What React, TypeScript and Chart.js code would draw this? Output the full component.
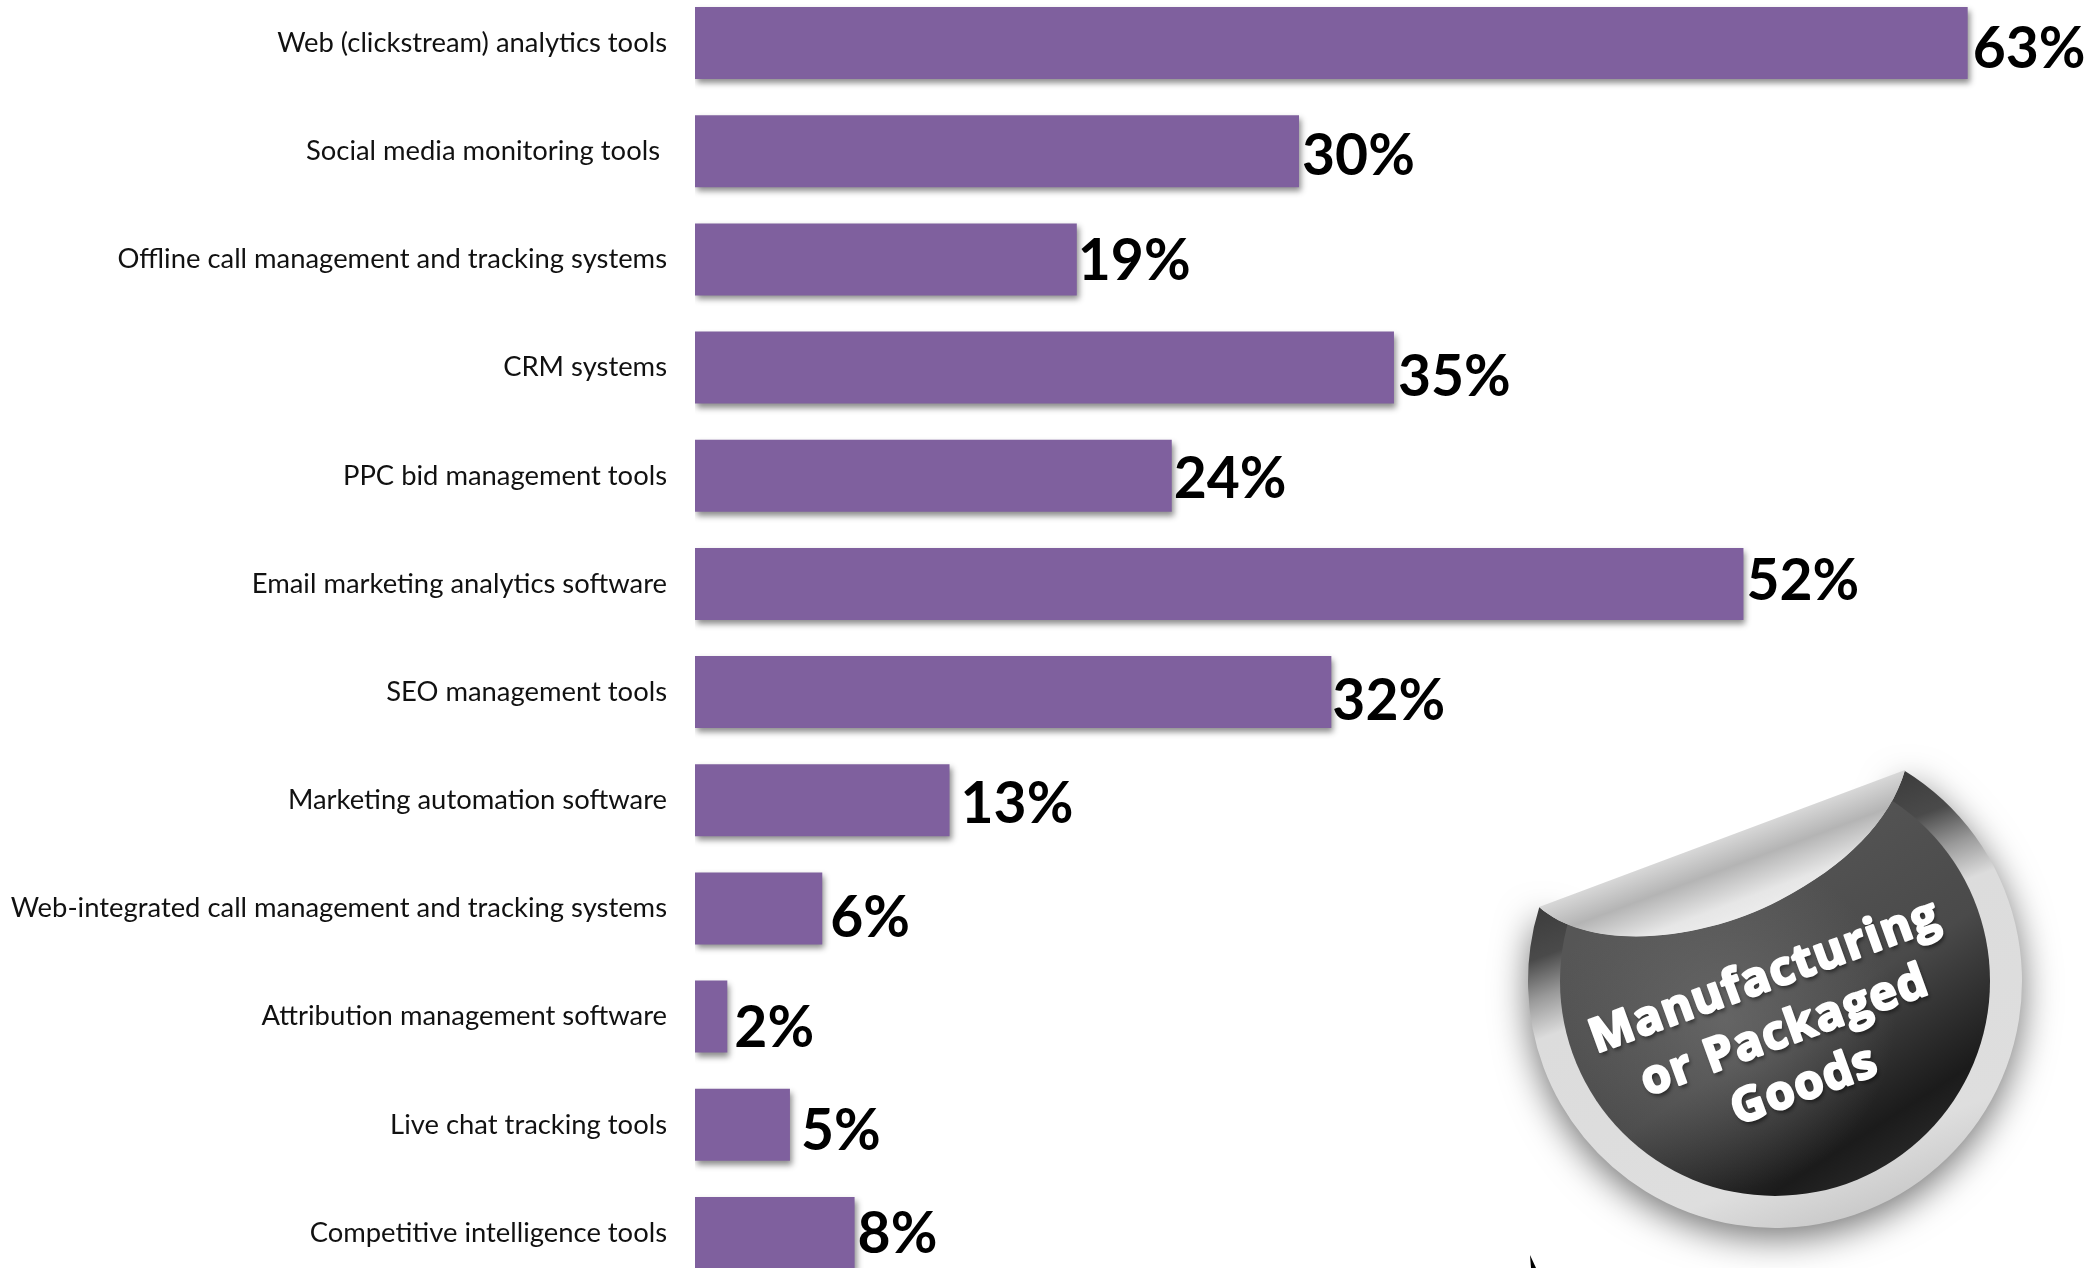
import React, { useEffect, useRef } from "react";
import { Chart, registerables } from "chart.js";

Chart.register(...registerables);

const categories = [
  "Web (clickstream) analytics tools",
  "Social media monitoring tools ",
  "Offline call management and tracking systems",
  "CRM systems",
  "PPC bid management tools",
  "Email marketing analytics software",
  "SEO management tools",
  "Marketing automation software",
  "Web-integrated call management and tracking systems",
  "Attribution management software",
  "Live chat tracking tools",
  "Competitive intelligence tools",
];
const barValues = [63, 29.9, 18.9, 34.6, 23.6, 51.9, 31.5, 12.6, 6.3, 1.6, 4.7, 7.9];
const valueLabels = ["63%", "30%", "19%", "35%", "24%", "52%", "32%", "13%", "6%", "2%", "5%", "8%"];
const labelShiftX = [5, 3, 1, 4, 2, 3, 1, 11, 8, 7, 11, 3];
const labelShiftY = [7, 5, 2, 10, 4, -2, 10, 4, 10, 12, 7, 2];
const stickerLines = ["Manufacturing", "or Packaged", "Goods"];

const CANVAS_TOP = 11;

const valueLabelPlugin = {
  id: "valueLabels",
  afterDatasetsDraw(chart: any) {
    const { ctx } = chart;
    const meta = chart.getDatasetMeta(0);
    ctx.save();
    ctx.shadowColor = "transparent";
    ctx.fillStyle = "#000";
    ctx.font = "bold 57px Lato";
    ctx.textAlign = "left";
    ctx.textBaseline = "middle";
    meta.data.forEach((bar: any, i: number) => {
      ctx.fillText(valueLabels[i], bar.x + labelShiftX[i], bar.y + labelShiftY[i]);
    });
    ctx.restore();
  },
};

const barShadowPlugin = {
  id: "barShadow",
  beforeDatasetsDraw(chart: any) {
    const { ctx } = chart;
    ctx.save();
    ctx.shadowColor = "rgba(0,0,0,0.45)";
    ctx.shadowBlur = 6;
    ctx.shadowOffsetX = 2;
    ctx.shadowOffsetY = 4;
  },
  afterDatasetsDraw(chart: any) {
    chart.ctx.restore();
  },
};

const stickerPlugin = {
  id: "sticker",
  afterDraw(chart: any) {
    const { ctx } = chart;
    const cx = 1775, cy = 981, R = 247, r = 215;
    const tipL = [1539, 907], tipR = [1905, 770];
    const a1 = Math.atan2(tipR[1] - cy, tipR[0] - cx);
    const a2 = Math.atan2(tipL[1] - cy, tipL[0] - cx);
    const shape = () => {
      ctx.beginPath();
      ctx.moveTo(tipR[0], tipR[1]);
      ctx.arc(cx, cy, R, a1, a2, false);
      ctx.bezierCurveTo(1590, 952, 1700, 942, 1780, 900);
      ctx.bezierCurveTo(1845, 866, 1890, 822, 1905, 770);
      ctx.closePath();
    };
    ctx.save();
    ctx.translate(0, CANVAS_TOP);

    const nx = 0.35, ny = 0.936;
    const mx = 1722, my = 838;
    const ring = ctx.createLinearGradient(mx, my, mx + nx * 480, my + ny * 480);
    ring.addColorStop(0, "#3c3c3c");
    ring.addColorStop(0.1, "#4a4a4a");
    ring.addColorStop(0.18, "#9a9a9a");
    ring.addColorStop(0.26, "#dcdcdc");
    ring.addColorStop(0.7, "#dedede");
    ring.addColorStop(0.85, "#c8c8c8");
    ring.addColorStop(1, "#e4e4e4");
    ctx.save();
    ctx.shadowColor = "rgba(0,0,0,0.55)";
    ctx.shadowBlur = 36;
    ctx.shadowOffsetY = 10;
    ctx.fillStyle = ring;
    shape();
    ctx.fill();
    ctx.restore();

    ctx.save();
    shape();
    ctx.clip();
    const disc = ctx.createLinearGradient(1680, 880, 1880, 1190);
    disc.addColorStop(0, "#565656");
    disc.addColorStop(0.5, "#4a4a4a");
    disc.addColorStop(0.85, "#1b1b1b");
    disc.addColorStop(1, "#2a2a2a");
    ctx.fillStyle = disc;
    ctx.beginPath();
    ctx.arc(cx, cy, r, 0, Math.PI * 2);
    ctx.fill();
    const glow = ctx.createRadialGradient(1725, 1020, 0, 1725, 1020, 170);
    glow.addColorStop(0, "rgba(120,120,120,0.55)");
    glow.addColorStop(1, "rgba(120,120,120,0)");
    ctx.fillStyle = glow;
    ctx.beginPath();
    ctx.arc(cx, cy, r, 0, Math.PI * 2);
    ctx.fill();
    ctx.restore();

    const flap = ctx.createLinearGradient(mx, my, mx + nx * 100, my + ny * 100);
    flap.addColorStop(0, "#d8d8d8");
    flap.addColorStop(0.3, "#b4b4b4");
    flap.addColorStop(0.65, "#e6e6e6");
    flap.addColorStop(1, "#f2f2f2");
    ctx.fillStyle = flap;
    ctx.beginPath();
    ctx.moveTo(tipL[0], tipL[1]);
    ctx.bezierCurveTo(1590, 952, 1700, 942, 1780, 900);
    ctx.bezierCurveTo(1845, 866, 1890, 822, 1905, 770);
    ctx.closePath();
    ctx.fill();

    ctx.save();
    ctx.translate(1785, 1032);
    ctx.rotate(-20 * Math.PI / 180);
    ctx.font = "bold 47px 'Open Sans'";
    (ctx as any).letterSpacing = "1.5px";
    ctx.textAlign = "center";
    ctx.textBaseline = "middle";
    ctx.lineJoin = "round";
    stickerLines.forEach((t, i) => {
      const y = (i - 1) * 58;
      ctx.save();
      ctx.shadowColor = "rgba(0,0,0,0.6)";
      ctx.shadowBlur = 4;
      ctx.shadowOffsetX = 2;
      ctx.shadowOffsetY = 3;
      ctx.fillStyle = "#fff";
      ctx.fillText(t, 0, y);
      ctx.restore();
      ctx.fillStyle = "#fff";
      ctx.strokeStyle = "#fff";
      ctx.lineWidth = 2.5;
      ctx.strokeText(t, 0, y);
      ctx.fillText(t, 0, y);
    });
    (ctx as any).letterSpacing = "0px";
    ctx.restore();

    ctx.fillStyle = "#000";
    ctx.beginPath();
    ctx.moveTo(1530, 1255);
    ctx.lineTo(1536, 1268);
    ctx.lineTo(1531, 1268);
    ctx.closePath();
    ctx.fill();
    ctx.restore();
  },
};

export default function App() {
  const ref = useRef<HTMLCanvasElement>(null);
  useEffect(() => {
    const chart = new Chart(ref.current as HTMLCanvasElement, {
      type: "bar",
      data: {
        labels: categories,
        datasets: [
          {
            data: barValues,
            backgroundColor: "#7f609e",
            borderWidth: 0,
            categoryPercentage: 1,
            barPercentage: 0.666,
          },
        ],
      },
      options: {
        indexAxis: "y",
        animation: false,
        responsive: false,
        devicePixelRatio: 1,
        layout: { padding: 0, autoPadding: false },
        plugins: { legend: { display: false }, title: { display: false }, tooltip: { enabled: false } },
        scales: {
          x: { display: false, min: 0, max: 69.5, grid: { display: false } },
          y: {
            grid: { display: false, drawTicks: false },
            border: { display: false },
            afterFit(scale: any) {
              scale.width = 695;
              scale.paddingTop = 0;
              scale.paddingBottom = 0;
            },
            ticks: {
              autoSkip: false,
              padding: 28,
              color: "#111",
              font: { family: "Lato", size: 27.4 },
            },
          },
        },
      },
      plugins: [barShadowPlugin, valueLabelPlugin, stickerPlugin],
    } as any);
    return () => chart.destroy();
  }, []);
  return (
    <div style={{ position: "absolute", left: 0, top: 0, width: 2099, height: 1268, overflow: "hidden", background: "#fff" }}>
      <canvas ref={ref} width={2099} height={1298} style={{ position: "absolute", left: 0, top: -CANVAS_TOP, width: 2099, height: 1298 }} />
    </div>
  );
}
